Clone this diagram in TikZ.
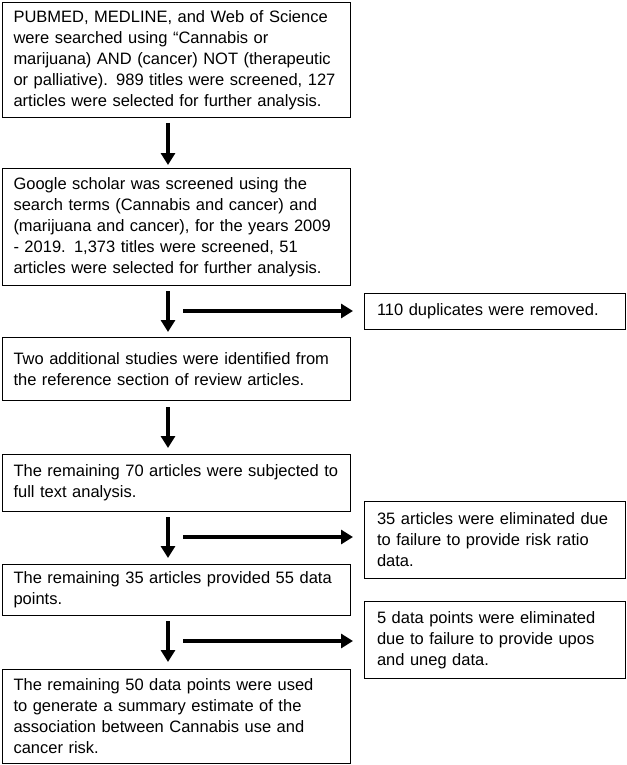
\documentclass[tikz,border=0pt]{standalone}
\usepackage{fontspec}
\setmainfont{Liberation Sans}
\usetikzlibrary{arrows.meta}
\hyphenpenalty=10000
\exhyphenpenalty=10000
\begin{document}
\begin{tikzpicture}[x=1pt,y=-1pt,
  box/.style={draw,line width=1pt,anchor=north west,align=left,inner xsep=9pt,inner ysep=2pt,
    font=\fontsize{16.5}{21}\selectfont},
  main/.style={box,text width=326pt,minimum width=348pt},
  side/.style={box,text width=236pt,minimum width=261pt},
  flow/.style={line width=3.5pt,-{Triangle[length=12pt,width=14pt]}}]
  \useasboundingbox (0,0) rectangle (626,765); % page frame
  % main column
  \node[main,minimum height=115pt] (search) at (2,2) {PUBMED, MEDLINE, and Web of Science were searched using “Cannabis or marijuana) AND (cancer) NOT (therapeutic or palliative). 989 titles were screened, 127 articles were selected for further analysis.};
  \node[main,minimum height=117pt] (scholar) at (2,168) {Google scholar was screened using the search terms (Cannabis and cancer) and (marijuana and cancer), for the years 2009 - 2019. 1,373 titles were screened, 51 articles were selected for further analysis.};
  \node[main,minimum height=63pt] (extra) at (2,337) {Two additional studies were identified from the reference section of review articles.};
  \node[main,minimum height=57pt] (fulltext) at (2,454) {The remaining 70 articles were subjected to full text analysis.};
  \node[main,minimum height=51pt] (points) at (2,564) {The remaining 35 articles provided 55 data points.};
  \node[main,minimum height=94pt] (summary) at (2,669) {The remaining 50 data points were used to generate a summary estimate of the association between Cannabis use and cancer risk.};
  % side column
  \node[side,minimum height=36pt] (dupes) at (364,293) {110 duplicates were removed.};
  \node[side,minimum height=77pt] (norisk) at (364,501) {35 articles were eliminated due to failure to provide risk ratio data.};
  \node[side,minimum height=77pt] (noupos) at (364,601) {5 data points were eliminated due to failure to provide upos and uneg data.};
  % vertical arrows
  \draw[flow] ([xshift=166pt,yshift=-5pt]search.south west) -- ([xshift=166pt,yshift=3pt]scholar.north west);
  \draw[flow] ([xshift=166pt,yshift=-5pt]scholar.south west) -- ([xshift=166pt,yshift=5pt]extra.north west);
  \draw[flow] ([xshift=166pt,yshift=-6pt]extra.south west) -- ([xshift=166pt,yshift=6pt]fulltext.north west);
  \draw[flow] ([xshift=166pt,yshift=-5pt]fulltext.south west) -- ([xshift=166pt,yshift=6pt]points.north west);
  \draw[flow] ([xshift=166pt,yshift=-5pt]points.south west) -- ([xshift=166pt,yshift=7pt]summary.north west);
  % side arrows
  \coordinate (s1) at (183,311);
  \coordinate (s2) at (183,537);
  \coordinate (s3) at (183,641);
  \draw[flow] (s1) -- ([xshift=-11pt]s1 -| dupes.west);
  \draw[flow] (s2) -- ([xshift=-11pt]s2 -| norisk.west);
  \draw[flow] (s3) -- ([xshift=-11pt]s3 -| noupos.west);
\end{tikzpicture}
\end{document}
